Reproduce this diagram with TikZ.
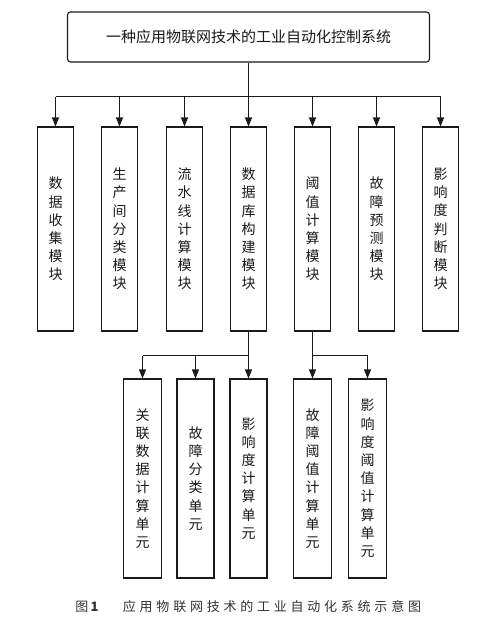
\documentclass[tikz,border=0pt]{standalone}
\usepackage{fontspec}
\newfontfamily\cjk{Noto Sans CJK SC}
\newfontfamily\cjkcap[LetterSpace=29]{Noto Sans CJK SC}
\usetikzlibrary{arrows.meta}
\definecolor{ink}{HTML}{1A1A1A}
\definecolor{capink}{HTML}{333333}
\begin{document}
\begin{tikzpicture}[x=1pt,y=-1pt,line width=1.1pt,draw=ink,text=ink,
  mod/.style={draw,minimum width=36pt,minimum height=204pt,inner sep=0pt,align=center,
    font=\cjk\fontsize{14}{18.2}\selectfont},
  unitbox/.style={draw,minimum width=38pt,minimum height=199pt,inner sep=0pt,align=center,
    font=\cjk\fontsize{14}{18.2}\selectfont},
  arr/.style={-{Triangle[length=9pt,width=7pt]}}]
\useasboundingbox (0,0) rectangle (492,634);
\fill[white] (0,0) rectangle (492,634);

\node[draw,rounded corners=3pt,minimum width=362pt,minimum height=50pt,inner sep=0pt,
  font=\cjk\fontsize{15}{18}\selectfont] (top) at (248.5,37) {一种应用物联网技术的工业自动化控制系统};

\node[mod] (m1) at (55.5,229) {数\\据\\收\\集\\模\\块};
\node[mod] (m2) at (119.5,229) {生\\产\\间\\分\\类\\模\\块};
\node[mod] (m3) at (184.5,229) {流\\水\\线\\计\\算\\模\\块};
\node[mod] (m4) at (248.5,229) {数\\据\\库\\构\\建\\模\\块};
\node[mod] (m5) at (312.5,229) {阈\\值\\计\\算\\模\\块};
\node[mod] (m6) at (376.5,229) {故\\障\\预\\测\\模\\块};
\node[mod] (m7) at (440.5,229) {影\\响\\度\\判\\断\\模\\块};

\node[unitbox] (u1) at (142.5,478.5) {关\\联\\数\\据\\计\\算\\单\\元};
\node[unitbox,minimum width=37pt] (u2) at (195.5,478.5) {故\\障\\分\\类\\单\\元};
\node[unitbox,minimum width=37pt] (u3) at (248.5,478.5) {影\\响\\度\\计\\算\\单\\元};
\node[unitbox] (u4) at (312.5,478.5) {故\\障\\阈\\值\\计\\算\\单\\元};
\node[unitbox] (u5) at (367.5,478.5) {影\\响\\度\\阈\\值\\计\\算\\单\\元};

% top bus
\coordinate (b1) at (248.5,96.5);
\draw[arr] (top.south) -- (m4.north);
\draw (m1.north |- b1) -- (m7.north |- b1);
\foreach \m in {m1,m2,m3,m5,m6,m7}
  \draw[arr] (\m.north |- b1) -- (\m.north);

% lower left bus
\coordinate (b2) at (248.5,355.5);
\draw[arr] (m4.south) -- (u3.north);
\draw (u1.north |- b2) -- (b2);
\foreach \u in {u1,u2}
  \draw[arr] (\u.north |- b2) -- (\u.north);

% lower right bus
\draw[arr] (m5.south) -- (u4.north);
\draw (u4.north |- b2) -- (u5.north |- b2);
\draw[arr] (u5.north |- b2) -- (u5.north);

% caption
\node[text=capink,font=\cjk\fontsize{13}{15}\selectfont,inner sep=0pt] (cap1) at (87,607) {图\,\textbf{1}};
\node[text=capink,font=\cjkcap\fontsize{13}{15}\selectfont,inner sep=0pt] (cap2) at (272,607) {应用物联网技术的工业自动化系统示意图};
\end{tikzpicture}
\end{document}
